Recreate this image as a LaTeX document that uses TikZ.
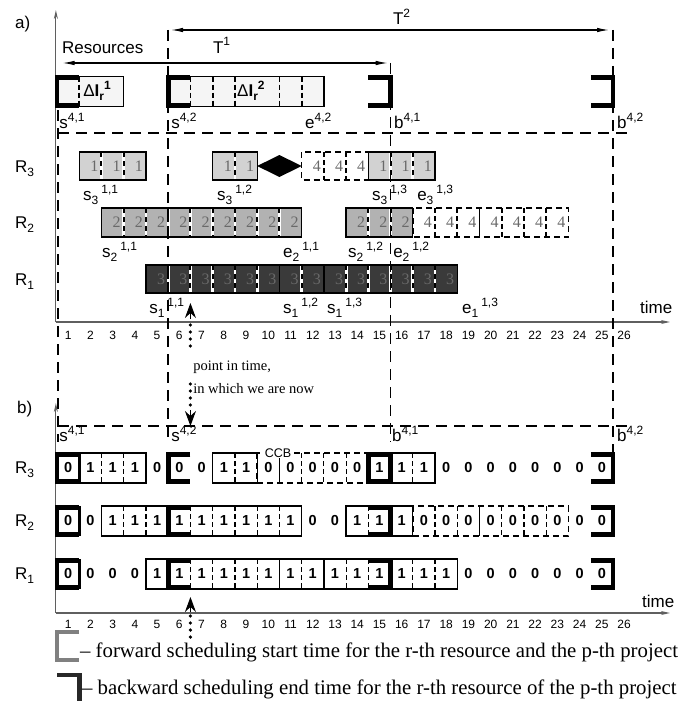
\documentclass[tikz,border=0pt]{standalone}
\usepackage{fontspec}
\setmainfont{Liberation Serif}
\setsansfont{Liberation Sans}
\usetikzlibrary{arrows.meta}
\definecolor{axisgray}{RGB}{95,95,95}
\definecolor{deltafill}{RGB}{245,245,245}
\definecolor{rthree}{RGB}{210,210,210}
\definecolor{rtwo}{RGB}{178,178,178}
\definecolor{rone}{RGB}{58,58,58}
\definecolor{numgray}{RGB}{105,105,105}
\definecolor{fwdgray}{RGB}{128,128,128}
\definecolor{bwddark}{RGB}{40,40,40}
\newcommand{\tsub}[1]{\raisebox{-4pt}{\fontsize{12}{12}\selectfont #1}}
\newcommand{\tsup}[1]{\raisebox{7pt}{\fontsize{12}{12}\selectfont #1}}
\newcommand{\lbs}[3]{#1\tsub{#2}\hspace{3pt}\tsup{#3}}
% white gap with black dashes between cells of a grey bar
\newcommand{\wsep}[3]{\draw[white,line width=2.8pt] (#1,#2)--(#1,#3);
  \draw[line width=2pt,dash pattern=on 5pt off 4pt] (#1,#2)--(#1,#3);}

\begin{document}
\begin{tikzpicture}[x=22.24pt,y=-1pt,every node/.style={inner sep=0pt},
  sfbig/.style={font=\sffamily\fontsize{17}{18}\selectfont},
  lbl/.style={sfbig,anchor=base west},
  ticklbl/.style={font=\sffamily\fontsize{12}{12}\selectfont},
  numa/.style={font=\fontsize{16}{16}\selectfont,text=numgray},
  numb/.style={font=\sffamily\bfseries\fontsize{14.5}{15}\selectfont},
  note/.style={font=\fontsize{14.5}{15}\selectfont,anchor=base west},
  legend/.style={font=\fontsize{20.8}{21}\selectfont,anchor=base west},
  guide/.style={line width=1.6pt,dash pattern=on 11pt off 7pt},
  bar/.style={line width=1.3pt},
  hold/.style={line width=4.8pt},
  dsep/.style={line width=1.8pt,dash pattern=on 5pt off 3pt},
  dsepb/.style={line width=1.2pt,dash pattern=on 5pt off 3pt},
  dbox/.style={line width=1.6pt,dash pattern=on 6pt off 4pt},
  axis/.style={axisgray,line width=1.2pt,-{Stealth[length=9pt,width=4pt]}},
  span/.style={line width=1.1pt,{Latex[length=12pt,width=4.5pt]}-{Latex[length=12pt,width=4.5pt]}},
  dots/.style={line width=3.6pt,line cap=round,dash pattern=on 0pt off 7pt},
  pointer/.style={line width=1pt,-{Stealth[length=15pt,width=11pt,inset=5pt]}}]
\useasboundingbox ({-57/22.24},0) rectangle ({628/22.24},701);

% ---------- a) ----------
\node[lbl] (parta) at (-1.89,29) {a)};
\draw[axis] (-0.05,322) -- (-0.05,10);
\draw[axis] (-0.05,322) -- (27.56,322);
\node[lbl] (timea) at (26.21,313) {time};
\node[lbl] (res) at (0.22,53) {Resources};
\foreach \cell in {1,...,26}
  \node[ticklbl] (ta\cell) at (\cell-0.5,335) {\cell};

% project horizons
\coordinate (tonel) at (0.25,63);
\coordinate (toner) at (14.87,63);
\coordinate (ttwol) at (5.13,30);
\coordinate (ttwor) at (24.82,30);
\draw[span] (tonel) -- (toner);
\draw[span] (ttwol) -- (ttwor);
\node[lbl] (tone) at (7.01,53) {T\tsup{1}};
\node[lbl] (ttwo) at (15.1,25) {T\tsup{2}};

% project 4 row
\fill[deltafill] (0,76.5) rectangle (3,106.5) (5,76.5) rectangle (12,106.5);
\foreach \cell in {1,6,7,8,10,11}
  \draw[dsep] (\cell,76.5) -- (\cell,106.5);
\draw[bar] (0,76.5) rectangle (3,106.5) (5,76.5) rectangle (12,106.5);
\draw[hold] (1,77.5) -- (0,77.5) -- (0,105.5) -- (1,105.5);
\draw[hold] (6,77.5) -- (5,77.5) -- (5,105.5) -- (6,105.5);
\draw[hold] (14,77.5) -- (15,77.5) -- (15,105.5) -- (14,105.5);
\draw[hold] (24,77.5) -- (25,77.5) -- (25,105.5) -- (24,105.5);
\node[sfbig] (dl1) at (1.8,91) {Δ\textbf{I}\tsub{\textbf{r}}\tsup{\textbf{1}}};
\node[sfbig] (dl2) at (8.72,91) {Δ\textbf{I}\tsub{\textbf{r}}\tsup{\textbf{2}}};
\node[lbl] (s41a) at (0.1,128) {s\tsup{4,1}};
\node[lbl] (s42a) at (5.13,128) {s\tsup{4,2}};
\node[lbl] (e42a) at (11.15,128) {e\tsup{4,2}};
\node[lbl] (b41a) at (15.15,128) {b\tsup{4,1}};
\node[lbl] (b42a) at (25.18,128) {b\tsup{4,2}};

% R3
\node[lbl] (r3a) at (-1.89,172) {R\tsub{3}};
\fill[rthree] (1,152) rectangle (4,180) (7,152) rectangle (9,180) (14,152) rectangle (17,180);
\foreach \cell in {2,3,8,15,16} {\wsep{\cell}{152}{180}}
\foreach \cell in {12,13} \draw[dsep] (\cell,152) -- (\cell,180);
\draw[dbox] (11,152) rectangle (14,180);
\draw[bar] (1,152) rectangle (4,180) (7,152) rectangle (9,180) (14,152) rectangle (17,180);
\fill (9,166) -- (10,155) -- (11,166) -- (10,177) -- cycle;
\foreach \cell in {2,3,4,8,9,15,16,17}
  \node[numa] (a3-\cell) at (\cell-0.32,166) {1};
\foreach \cell in {12,13,14}
  \node[numa] (a3-\cell) at (\cell-0.32,166) {4};
\node[lbl] (s311) at (1.17,200) {\lbs{s}{3}{1,1}};
\node[lbl] (s312) at (7.19,200) {\lbs{s}{3}{1,2}};
\node[lbl] (s313) at (14.16,200) {\lbs{s}{3}{1,3}};
\node[lbl] (e313) at (16.19,200) {\lbs{e}{3}{1,3}};

% R2
\node[lbl] (r2a) at (-1.89,228) {R\tsub{2}};
\fill[rtwo] (2,208) rectangle (11,237) (13,208) rectangle (16,237);
\foreach \cell in {3,...,10,14,15} {\wsep{\cell}{208}{237}}
\foreach \cell in {17,18,20,21,22} \draw[dsep] (\cell,208) -- (\cell,237);
\draw[bar] (19,208) -- (19,237);
\draw[dbox] (16,208) rectangle (23,237);
\draw[bar] (2,208) rectangle (11,237) (13,208) rectangle (16,237);
\foreach \cell in {3,...,11,14,15,16}
  \node[numa] (a2-\cell) at (\cell-0.32,222.5) {2};
\foreach \cell in {17,...,23}
  \node[numa] (a2-\cell) at (\cell-0.32,222.5) {4};
\node[lbl] (s211) at (2.02,257) {\lbs{s}{2}{1,1}};
\node[lbl] (e211) at (10.16,257) {\lbs{e}{2}{1,1}};
\node[lbl] (s212) at (13.08,257) {\lbs{s}{2}{1,2}};
\node[lbl] (e212) at (15.11,257) {\lbs{e}{2}{1,2}};

% R1
\node[lbl] (r1a) at (-1.89,285) {R\tsub{1}};
\fill[rone] (4,265) rectangle (18,293);
\foreach \cell in {5,6,7,8,9,11,13,14,15,16,17} {\wsep{\cell}{265}{293}}
\draw[bar] (10,265) -- (10,293) (12,265) -- (12,293);
\draw[bar] (4,265) rectangle (18,293);
\foreach \cell in {5,...,18}
  \node[numa] (a1-\cell) at (\cell-0.32,279) {3};
\node[lbl] (s111) at (4.14,313) {\lbs{s}{1}{1,1}};
\node[lbl] (s112) at (10.16,313) {\lbs{s}{1}{1,2}};
\node[lbl] (s113) at (12.14,313) {\lbs{s}{1}{1,3}};
\node[lbl] (e113) at (18.21,313) {\lbs{e}{1}{1,3}};

% time guides
\draw[guide] (0.05,133) -- (25.9,133);
\draw[guide] (0.05,426) -- (25.9,426);
\draw[guide] (0.05,110) -- (0.05,442);
\draw[guide] (5,30) -- (5,442);
\draw[guide] (15,63) -- (15,442);
\draw[guide] (25,30) -- (25,455);

% point in time
\node[note] (nowa) at (6.12,370) {point in time,};
\node[note] (nowb) at (6.12,393) {in which we are now};
\coordinate (upa) at (6,303);
\coordinate (downb) at (6,426);
\coordinate (upb) at (6,597);
\draw[dots] (6,346) -- (6,318);
\draw[pointer] (6,319) -- (upa);
\draw[dots] (6,384) -- (6,406);
\draw[pointer] (6,410) -- (downb);
\draw[pointer] (6,613) -- (upb);
\draw[dots] (6,616) -- (6,637);

% ---------- b) ----------
\node[lbl] (partb) at (-1.8,413) {b)};
\draw[axis] (-0.05,613) -- (-0.05,403);
\draw[axis] (-0.05,613) -- (27.56,613);
\node[lbl] (timeb) at (26.3,607) {time};
\foreach \cell in {1,...,26}
  \node[ticklbl] (tb\cell) at (\cell-0.5,624) {\cell};
\node[lbl] (s41b) at (0.1,441) {s\tsup{4,1}};
\node[lbl] (s42b) at (5.13,441) {s\tsup{4,2}};
\node[lbl] (b41b) at (15.06,441) {b\tsup{4,1}};
\node[lbl] (b42b) at (25.18,441) {b\tsup{4,2}};

% R3
\node[lbl] (r3b) at (-1.89,473) {R\tsub{3}};
\draw[dbox] (9,453) rectangle (14,483);
\foreach \cell in {11,12,13} \draw[dsepb] (\cell,453) -- (\cell,483);
\draw[bar] (10,453) -- (10,483);
\foreach \cell in {2,3,8,16} \draw[dsepb] (\cell,453) -- (\cell,483);
\draw[bar] (1,453) rectangle (4,483) (7,453) rectangle (9,483) (14,453) rectangle (17,483);
\draw[hold] (1,454.5) -- (0,454.5) -- (0,481.5) -- (1,481.5);
\draw[line width=3pt] (1,453) -- (1,483);
\draw[hold] (6,454.5) -- (5,454.5) -- (5,481.5) -- (6,481.5);
\draw[hold] (14,454.5) rectangle (15,481.5);
\draw[hold] (24,454.5) -- (25,454.5) -- (25,481.5) -- (24,481.5);
\foreach \v [count=\cell] in {0,1,1,1,0,0,0,1,1,0,0,0,0,0,1,1,1,0,0,0,0,0,0,0,0}
  \node[numb] (b3-\cell) at (\cell-0.5,468) {\v};
\node[font=\sffamily\fontsize{12.5}{13}\selectfont,fill=white,inner sep=1pt,anchor=base] (ccb) at (9.94,457) {CCB};

% R2
\node[lbl] (r2b) at (-1.89,526) {R\tsub{2}};
\draw[dbox] (16,506) rectangle (23,536);
\foreach \cell in {17,18,20,21,22} \draw[dsepb] (\cell,506) -- (\cell,536);
\draw[bar] (19,506) -- (19,536);
\foreach \cell in {3,4,6,7,8,9,10,14} \draw[dsepb] (\cell,506) -- (\cell,536);
\draw[bar] (2,506) rectangle (11,536) (13,506) rectangle (16,536);
\draw[hold] (1,507.5) -- (0,507.5) -- (0,534.5) -- (1,534.5);
\draw[line width=3pt] (1,506) -- (1,536);
\draw[hold] (6,507.5) -- (5,507.5) -- (5,534.5) -- (6,534.5);
\draw[hold] (14,507.5) -- (15,507.5) -- (15,534.5) -- (14,534.5);
\draw[hold] (24,507.5) -- (25,507.5) -- (25,534.5) -- (24,534.5);
\foreach \v [count=\cell] in {0,0,1,1,1,1,1,1,1,1,1,0,0,1,1,1,0,0,0,0,0,0,0,0,0}
  \node[numb] (b2-\cell) at (\cell-0.5,521) {\v};

% R1
\node[lbl] (r1b) at (-1.89,579) {R\tsub{1}};
\foreach \cell in {6,7,8,9,11,13,14,16,17} \draw[dsepb] (\cell,559) -- (\cell,589);
\draw[bar] (10,559) -- (10,589) (12,559) -- (12,589);
\draw[bar] (4,559) rectangle (18,589);
\draw[hold] (1,560.5) -- (0,560.5) -- (0,587.5) -- (1,587.5);
\draw[line width=3pt] (1,559) -- (1,589);
\draw[hold] (6,560.5) -- (5,560.5) -- (5,587.5) -- (6,587.5);
\draw[hold] (14,560.5) -- (15,560.5) -- (15,587.5) -- (14,587.5);
\draw[hold] (24,560.5) -- (25,560.5) -- (25,587.5) -- (24,587.5);
\foreach \v [count=\cell] in {0,0,0,0,1,1,1,1,1,1,1,1,1,1,1,1,1,1,0,0,0,0,0,0,0}
  \node[numb] (b1-\cell) at (\cell-0.5,574) {\v};

% legend
\draw[hold,fwdgray] (1,632) -- (0,632) -- (0,660) -- (1,660);
\node[legend] (fwd) at (1.03,657) {-- forward scheduling start time for the r-th resource and the p-th project};
\draw[hold,bwddark] (0,675) -- (1,675) -- (1,701);
\node[legend] (bwd) at (1.12,694) {-- backward scheduling end time for the r-th resource of the p-th project};
\end{tikzpicture}
\end{document}
